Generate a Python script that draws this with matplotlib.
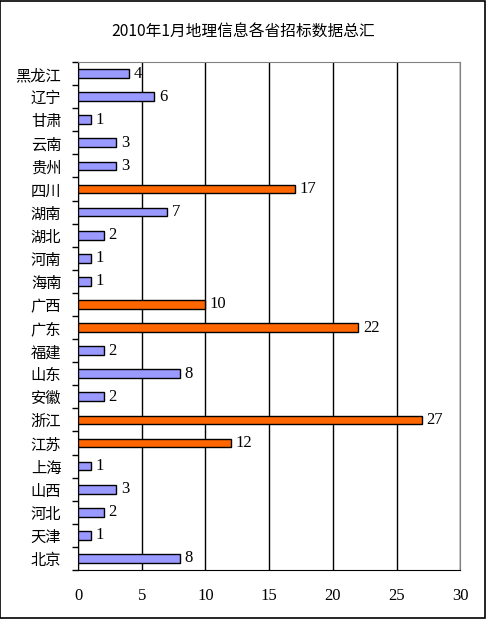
import matplotlib
matplotlib.use("Agg")
import matplotlib.pyplot as plt
from matplotlib.patches import Rectangle

plt.rcParams['font.family'] = ['Noto Sans CJK SC', 'DejaVu Sans']

title = "2010年1月地理信息各省招标数据总汇"
provinces = ["黑龙江", "辽宁", "甘肃", "云南", "贵州", "四川", "湖南", "湖北", "河南", "海南",
             "广西", "广东", "福建", "山东", "安徽", "浙江", "江苏", "上海", "山西", "河北",
             "天津", "北京"]
counts = [4, 6, 1, 3, 3, 17, 7, 2, 1, 1, 10, 22, 2, 8, 2, 27, 12, 1, 3, 2, 1, 8]
highlight = ["四川", "广西", "广东", "浙江", "江苏"]
xticks = [0, 5, 10, 15, 20, 25, 30]

num_font = ['Liberation Serif', 'DejaVu Serif']

fig = plt.figure(figsize=(4.86, 6.19), dpi=100)
fig.patches.append(Rectangle((0.001, 0.002), 0.996, 0.996, transform=fig.transFigure,
                             fill=False, edgecolor='black', linewidth=1.2))
ax = fig.add_axes([0.1605, 0.0792, 0.787, 0.8206])

n = len(provinces)
ypos = [n - 1 - i for i in range(n)]
colors = ['#FF6600' if p in highlight else '#9999FF' for p in provinces]
ax.barh(ypos, counts, height=0.38, color=colors, edgecolor='black', linewidth=1, zorder=3)
for y, v in zip(ypos, counts):
    ax.text(v + 0.35, y, str(v), va='center', ha='left', fontsize=12,
            family=num_font, zorder=4)

ax.set_xlim(0, 30)
ax.set_ylim(-0.5, n - 0.5)
ax.set_xticks(xticks)
ax.set_xticklabels([str(t) for t in xticks], fontsize=12, family=num_font)
ax.tick_params(axis='x', length=0, pad=13)
ax.set_yticks(ypos)
ax.set_yticklabels(provinces, fontsize=11)
ax.tick_params(axis='y', which='major', length=0, pad=12)
ax.set_yticks([k + 0.5 for k in range(-1, n)], minor=True)
ax.tick_params(axis='y', which='minor', length=4, width=1, direction='out')
ax.grid(axis='x', color='black', linewidth=1, zorder=0)
ax.spines['left'].set_color('black')
ax.spines['bottom'].set_color('black')
ax.spines['top'].set_color('#808080')
ax.spines['right'].set_color('#808080')
fig.text(0.5, 1 - 32 / 619, title, ha='center', va='center', fontsize=11.3)

fig.savefig("out.png", dpi=100)
